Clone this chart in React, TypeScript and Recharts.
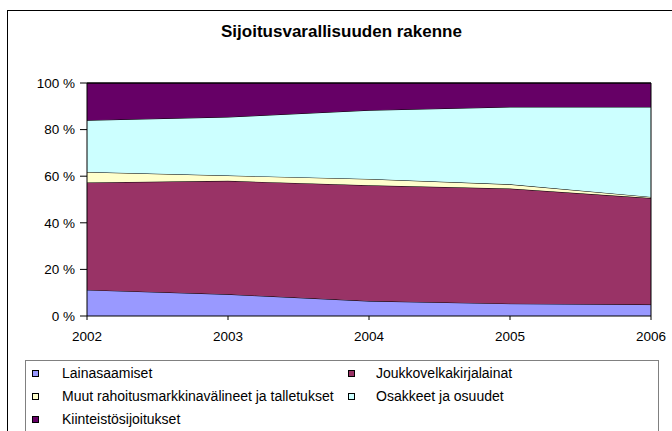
import { AreaChart, Area, XAxis, YAxis, ReferenceLine } from "recharts";

// share of investment assets by year, in percent
const years = ["2002", "2003", "2004", "2005", "2006"];
const lainasaamiset = [11.2, 9.3, 6.4, 5.3, 4.9];
const joukkovelkakirjalainat = [46.1, 48.7, 49.7, 49.4, 45.7];
const muutRahoitus = [4.5, 2.3, 2.7, 1.8, 0.5];
const osakkeet = [22.2, 25.1, 29.5, 33.2, 38.6];
const kiinteistot = [16.0, 14.6, 11.7, 10.3, 10.3];
const yTicks = [0, 0.2, 0.4, 0.6, 0.8, 1];

const series = [
  { key: "lainasaamiset", name: "Lainasaamiset", color: "#9999FF", values: lainasaamiset },
  { key: "joukkovelkakirjalainat", name: "Joukkovelkakirjalainat", color: "#993366", values: joukkovelkakirjalainat },
  { key: "muut", name: "Muut rahoitusmarkkinavälineet ja talletukset", color: "#FFFFCC", values: muutRahoitus },
  { key: "osakkeet", name: "Osakkeet ja osuudet", color: "#CCFFFF", values: osakkeet },
  { key: "kiinteistot", name: "Kiinteistösijoitukset", color: "#660066", values: kiinteistot },
];

const data = years.map((year, i) => {
  const row: Record<string, string | number> = { year };
  series.forEach((s) => {
    row[s.key] = s.values[i];
  });
  return row;
});

const font = "'Liberation Sans', Arial, sans-serif";

// legend is laid out like the Excel one: two columns, filled row by row
const legendSquareX = [32, 348];
const legendTextX = [62, 376];
const legendRows = [373, 396, 419];

export default function App() {
  return (
    <div
      style={{
        position: "absolute",
        left: 0,
        top: 0,
        width: 672,
        height: 431,
        overflow: "hidden",
        background: "#fff",
        fontFamily: font,
      }}
    >
      <div
        style={{
          position: "absolute",
          left: 7,
          top: 10,
          width: 700,
          height: 500,
          border: "1px solid #000",
        }}
      />
      <div
        style={{
          position: "absolute",
          left: 0,
          width: 683,
          top: 23,
          textAlign: "center",
          fontWeight: "bold",
          fontSize: 17,
          lineHeight: "17px",
          color: "#000",
        }}
      >
        Sijoitusvarallisuuden rakenne
      </div>

      <div style={{ position: "absolute", left: 0, top: 0 }}>
        <AreaChart
          width={672}
          height={431}
          data={data}
          stackOffset="expand"
          margin={{ top: 83, right: 21, bottom: 85, left: 0 }}
        >
          <XAxis
            dataKey="year"
            interval={0}
            height={30}
            tickSize={4}
            tickMargin={11}
            axisLine={{ stroke: "#000" }}
            tickLine={{ stroke: "#000" }}
            tick={{ fontSize: 13.5, fill: "#000", fontFamily: font }}
          />
          <YAxis
            width={87}
            domain={[0, 1]}
            ticks={yTicks}
            tickSize={7}
            tickMargin={5}
            tickFormatter={(v: number) => `${Math.round(v * 100)} %`}
            axisLine={{ stroke: "#000" }}
            tickLine={{ stroke: "#000" }}
            tick={{ fontSize: 13.5, fill: "#000", fontFamily: font }}
          />
          {series.map((s) => (
            <Area
              key={s.key}
              type="linear"
              dataKey={s.key}
              name={s.name}
              stackId="1"
              fill={s.color}
              fillOpacity={1}
              stroke="#000"
              strokeWidth={1}
              isAnimationActive={false}
            />
          ))}
          <ReferenceLine x="2006" stroke="#000" />
          <ReferenceLine y={1} stroke="#000" />
        </AreaChart>
      </div>

      <div
        style={{
          position: "absolute",
          left: 25,
          top: 360,
          width: 632,
          height: 100,
          border: "1px solid #808080",
        }}
      />
      {series.map((s, i) => {
        const col = i % 2;
        const y = legendRows[Math.floor(i / 2)];
        return (
          <div key={s.key}>
            <div
              style={{
                position: "absolute",
                left: legendSquareX[col],
                top: y - 3,
                width: 5,
                height: 5,
                background: s.color,
                border: "1px solid #000",
              }}
            />
            <div
              style={{
                position: "absolute",
                left: legendTextX[col],
                top: y - 8,
                fontSize: 14,
                lineHeight: "16px",
                color: "#000",
                whiteSpace: "nowrap",
              }}
            >
              {s.name}
            </div>
          </div>
        );
      })}
    </div>
  );
}
